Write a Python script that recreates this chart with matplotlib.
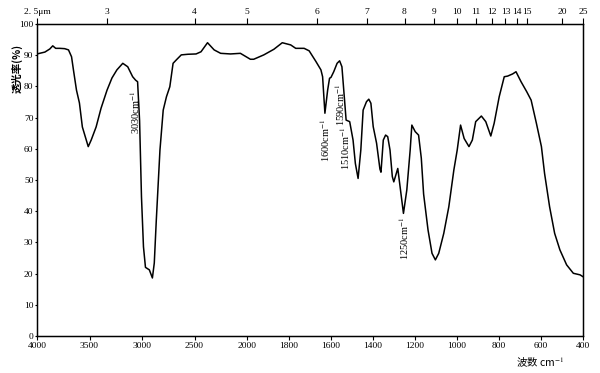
import numpy as np
import matplotlib
matplotlib.use("Agg")
import matplotlib.pyplot as plt

plt.rcParams['font.family'] = ['Liberation Serif', 'Noto Sans CJK SC', 'DejaVu Sans']
plt.rcParams['mathtext.fontset'] = 'stix'

# IR spectrum: wavenumber (cm^-1) and transmittance (%)
wavenumber = [
    4000, 3925, 3878, 3850, 3822, 3784, 3737, 3700, 3671, 3653, 3624, 3596, 3568, 3540,
    3512, 3484, 3437, 3390, 3333, 3286, 3239, 3183, 3136, 3089, 3061, 3042, 3023, 3005,
    2986, 2967, 2930, 2911, 2901, 2883, 2864, 2829, 2798, 2767, 2735, 2704, 2673, 2626,
    2563, 2485, 2438, 2376, 2313, 2251, 2157, 2063, 1984, 1968, 1920, 1872, 1832, 1792,
    1768, 1728, 1704, 1672, 1648, 1640, 1629, 1616, 1607, 1600, 1587, 1571, 1559, 1548,
    1539, 1528, 1511, 1495, 1484, 1471, 1458, 1447, 1431, 1420, 1410, 1399, 1383, 1367,
    1362, 1351, 1340, 1330, 1319, 1308, 1301, 1282, 1271, 1255, 1239, 1223, 1215, 1199,
    1183, 1170, 1159, 1138, 1119, 1103, 1087, 1063, 1039, 1015, 999, 983, 966, 943,
    927, 911, 884, 863, 839, 823, 799, 775, 759, 735, 719, 695, 668, 647,
    622, 598, 583, 559, 535, 510, 478, 446, 414, 400]
transmittance = [
    90.4, 91.0, 92.0, 93.0, 92.2, 92.2, 92.1, 91.7, 89.5, 85.3, 78.8, 74.7, 67.0, 63.8,
    60.7, 62.8, 67.0, 73.0, 78.8, 82.7, 85.3, 87.4, 86.3, 83.1, 82.0, 81.5, 69.0, 44.6,
    28.6, 22.0, 21.2, 19.5, 18.6, 23.4, 37.0, 59.6, 72.4, 76.7, 79.9, 87.4, 88.5, 90.1,
    90.3, 90.4, 91.1, 94.0, 91.7, 90.6, 90.4, 90.6, 88.7, 88.7, 90.1, 91.9, 94.0, 93.3,
    92.2, 92.2, 91.4, 88.0, 85.3, 83.1, 71.4, 78.8, 82.6, 82.9, 84.7, 87.4, 88.2, 86.3,
    78.8, 69.2, 68.7, 62.8, 55.3, 50.5, 59.6, 72.4, 75.1, 75.9, 74.6, 67.1, 61.8, 53.5,
    52.5, 62.8, 64.4, 63.9, 59.6, 51.1, 49.4, 53.7, 47.9, 39.3, 46.8, 59.6, 67.6, 65.5,
    64.4, 57.0, 45.5, 34.0, 26.5, 24.4, 26.5, 32.9, 41.4, 53.2, 59.6, 67.6, 63.3, 60.7,
    62.8, 68.7, 70.5, 68.7, 64.1, 68.2, 76.7, 83.1, 83.3, 84.0, 84.7, 81.5, 78.3, 75.6,
    68.2, 60.7, 52.1, 41.4, 32.9, 27.6, 22.8, 20.1, 19.6, 19.0]

wn_ticks = [4000, 3500, 3000, 2500, 2000, 1800, 1600, 1400, 1200, 1000, 800, 600, 400]
y_ticks = [0, 10, 20, 30, 40, 50, 60, 70, 80, 90, 100]
um_ticks = [2.5, 3, 4, 5, 6, 7, 8, 9, 10, 11, 12, 13, 14, 15, 20, 25]
um_labels = ["2. 5μm", "3", "4", "5", "6", "7", "8", "9", "10", "11", "12", "13", "14", "15", "20", "25"]

annotations = [
    ("3030cm$^{-1}$", 3061, 71.8),
    ("1600cm$^{-1}$", 1630, 62.8),
    ("1590cm$^{-1}$", 1558, 74.0),
    ("1510cm$^{-1}$", 1534, 60.3),
    ("1250cm$^{-1}$", 1250, 31.4),
]


def fwd(w):
    w = np.asarray(w, dtype=float)
    return np.where(w > 2000, 2000 + (w - 2000) / 2.0, w)


def inv(u):
    u = np.asarray(u, dtype=float)
    return np.where(u > 2000, 2000 + (u - 2000) * 2.0, u)


fig = plt.figure(figsize=(6.0, 3.73), dpi=100)
ax = fig.add_axes([37 / 600, 1 - 336 / 373, 546 / 600, 312 / 373])
ax.set_xscale('function', functions=(fwd, inv))
ax.plot(wavenumber, transmittance, color='black', lw=1.1)
ax.set_xlim(4000, 400)
ax.set_ylim(0, 100)
ax.set_xticks(wn_ticks)
ax.set_xticklabels([str(t) for t in wn_ticks])
ax.set_yticks(y_ticks)
ax.set_yticklabels([str(t) for t in y_ticks])
ax.minorticks_off()
ax.tick_params(axis='x', direction='out', length=3, width=0.8, labelsize=6.8, pad=1.5)
ax.tick_params(axis='y', direction='out', length=1.5, width=0.8, labelsize=6.8, pad=1)
for s in ax.spines.values():
    s.set_linewidth(1.0)

ax2 = ax.twiny()
ax2.set_xscale('function', functions=(fwd, inv))
ax2.set_xlim(4000, 400)
ax2.set_xticks([1e4 / m for m in um_ticks])
ax2.set_xticklabels(um_labels)
ax2.minorticks_off()
ax2.tick_params(axis='x', direction='out', length=4, width=0.8, labelsize=6.8, pad=1.5)

for txt, w, t in annotations:
    ax.text(w, t, txt, rotation=90, ha='center', va='center', fontsize=7.5)

fig.text(17 / 600, 1 - 68 / 373, "透光率(%)", rotation=90, ha='center', va='center',
         fontsize=7.5, family=['Noto Sans CJK SC', 'DejaVu Sans'], fontweight='bold')
fig.text(540 / 600, 1 - 363 / 373, "波数 cm$^{-1}$", ha='center', va='center',
         fontsize=7.5, family=['Noto Sans CJK SC', 'DejaVu Sans'])

fig.savefig("out.png", dpi=100, facecolor='white')
